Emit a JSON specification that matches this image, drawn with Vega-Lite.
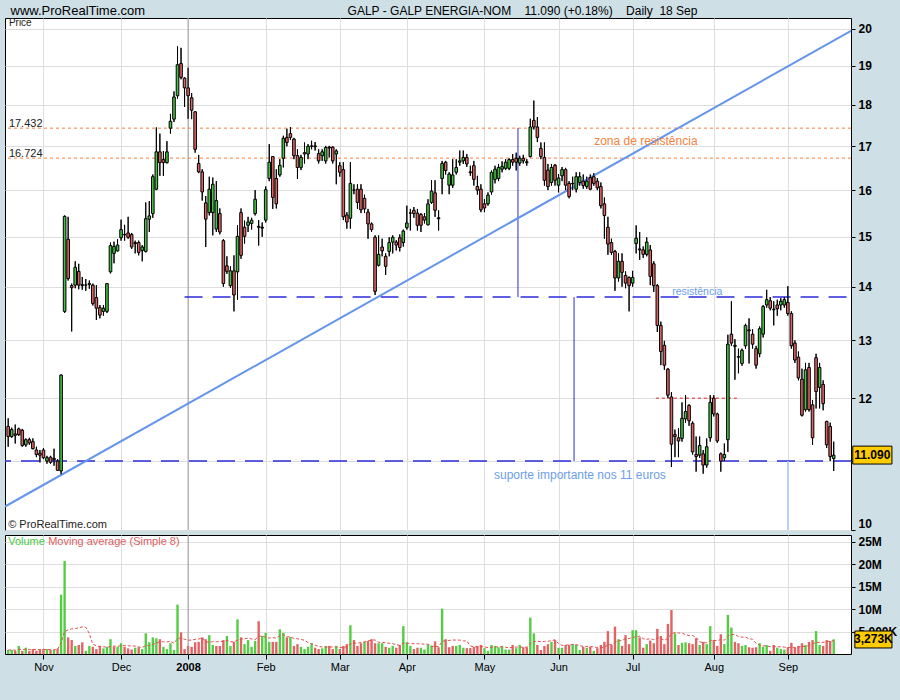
{
"$schema": "https://vega.github.io/schema/vega-lite/v6.json",
"background": "#cfdfe6",
"padding": {"left": 3, "top": 3, "right": 9, "bottom": 28},
"config": {
  "view": {"stroke": "#000000", "strokeWidth": 1, "fill": "#ffffff"},
  "font": "Liberation Sans",
  "axis": {"gridColor": "#dedede", "gridWidth": 1, "tickColor": "#000000", "labelColor": "#000000", "domain": false, "titleFontWeight": "normal", "titleColor": "#000000", "labelOverlap": false},
  "concat": {"spacing": 5}
},
"datasets": {
"galp": [
{"d":"2007-10-18","i":0,"o":11.54,"h":11.67,"l":11.22,"c":11.38,"v":900000},
{"d":"2007-10-19","i":1,"o":11.38,"h":11.52,"l":11.36,"c":11.49,"v":900000},
{"d":"2007-10-22","i":2,"o":11.42,"h":11.57,"l":11.27,"c":11.40,"v":700000},
{"d":"2007-10-23","i":3,"o":11.50,"h":11.52,"l":11.39,"c":11.41,"v":1800000},
{"d":"2007-10-24","i":4,"o":11.48,"h":11.50,"l":11.22,"c":11.24,"v":700000},
{"d":"2007-10-25","i":5,"o":11.25,"h":11.35,"l":11.22,"c":11.33,"v":1400000},
{"d":"2007-10-26","i":6,"o":11.33,"h":11.36,"l":11.25,"c":11.28,"v":700000},
{"d":"2007-10-29","i":7,"o":11.30,"h":11.35,"l":11.18,"c":11.19,"v":1100000},
{"d":"2007-10-30","i":8,"o":11.17,"h":11.22,"l":11.06,"c":11.10,"v":700000},
{"d":"2007-10-31","i":9,"o":11.12,"h":11.17,"l":10.98,"c":11.09,"v":900000},
{"d":"2007-11-01","i":10,"o":11.17,"h":11.20,"l":11.03,"c":11.05,"v":1100000},
{"d":"2007-11-02","i":11,"o":11.00,"h":11.08,"l":10.96,"c":11.05,"v":1100000},
{"d":"2007-11-05","i":12,"o":11.06,"h":11.08,"l":10.96,"c":10.98,"v":900000},
{"d":"2007-11-06","i":13,"o":11.04,"h":11.19,"l":10.93,"c":11.02,"v":900000},
{"d":"2007-11-07","i":14,"o":11.00,"h":11.03,"l":10.85,"c":10.86,"v":1200000},
{"d":"2007-11-08","i":15,"o":10.85,"h":12.40,"l":10.80,"c":12.39,"v":13200000},
{"d":"2007-11-09","i":16,"o":13.53,"h":15.45,"l":13.50,"c":15.43,"v":20700000},
{"d":"2007-11-12","i":17,"o":14.95,"h":15.42,"l":14.12,"c":14.16,"v":3700000},
{"d":"2007-11-13","i":18,"o":14.02,"h":14.06,"l":13.16,"c":13.98,"v":3100000},
{"d":"2007-11-14","i":19,"o":14.03,"h":14.50,"l":13.97,"c":14.38,"v":1800000},
{"d":"2007-11-15","i":20,"o":14.30,"h":14.45,"l":13.95,"c":14.03,"v":2000000},
{"d":"2007-11-16","i":21,"o":14.04,"h":14.19,"l":13.94,"c":14.02,"v":2600000},
{"d":"2007-11-19","i":22,"o":14.03,"h":14.15,"l":13.92,"c":14.03,"v":700000},
{"d":"2007-11-20","i":23,"o":14.06,"h":14.12,"l":13.96,"c":14.04,"v":1800000},
{"d":"2007-11-21","i":24,"o":14.03,"h":14.06,"l":13.64,"c":13.68,"v":1600000},
{"d":"2007-11-22","i":25,"o":13.79,"h":14.03,"l":13.37,"c":13.59,"v":1100000},
{"d":"2007-11-23","i":26,"o":13.60,"h":13.65,"l":13.40,"c":13.46,"v":1800000},
{"d":"2007-11-26","i":27,"o":13.53,"h":13.65,"l":13.45,"c":13.59,"v":1250000},
{"d":"2007-11-27","i":28,"o":13.53,"h":14.07,"l":13.50,"c":14.06,"v":1600000},
{"d":"2007-11-28","i":29,"o":14.29,"h":14.88,"l":14.26,"c":14.82,"v":3300000},
{"d":"2007-11-29","i":30,"o":14.66,"h":14.90,"l":14.46,"c":14.80,"v":1600000},
{"d":"2007-11-30","i":31,"o":14.71,"h":14.95,"l":14.70,"c":14.83,"v":1600000},
{"d":"2007-12-03","i":32,"o":14.98,"h":15.36,"l":14.92,"c":15.15,"v":2400000},
{"d":"2007-12-04","i":33,"o":15.05,"h":15.25,"l":14.92,"c":15.04,"v":1600000},
{"d":"2007-12-05","i":34,"o":15.08,"h":15.42,"l":14.96,"c":14.99,"v":1250000},
{"d":"2007-12-06","i":35,"o":15.05,"h":15.08,"l":14.75,"c":14.79,"v":1000000},
{"d":"2007-12-07","i":36,"o":14.88,"h":14.92,"l":14.66,"c":14.86,"v":1400000},
{"d":"2007-12-10","i":37,"o":14.88,"h":14.92,"l":14.62,"c":14.68,"v":1500000},
{"d":"2007-12-11","i":38,"o":14.72,"h":14.83,"l":14.50,"c":14.79,"v":1100000},
{"d":"2007-12-12","i":39,"o":14.70,"h":15.73,"l":14.68,"c":15.38,"v":4600000},
{"d":"2007-12-13","i":40,"o":15.37,"h":15.76,"l":15.10,"c":15.44,"v":2600000},
{"d":"2007-12-14","i":41,"o":15.49,"h":16.35,"l":15.40,"c":16.30,"v":3700000},
{"d":"2007-12-17","i":42,"o":16.02,"h":17.45,"l":16.00,"c":16.87,"v":3500000},
{"d":"2007-12-18","i":43,"o":16.87,"h":17.30,"l":16.32,"c":16.62,"v":3300000},
{"d":"2007-12-19","i":44,"o":16.69,"h":16.89,"l":16.32,"c":16.62,"v":1600000},
{"d":"2007-12-20","i":45,"o":16.62,"h":17.12,"l":16.60,"c":16.87,"v":1100000},
{"d":"2007-12-21","i":46,"o":17.43,"h":17.78,"l":17.30,"c":17.60,"v":2400000},
{"d":"2007-12-24","i":47,"o":17.65,"h":18.34,"l":17.58,"c":18.20,"v":900000},
{"d":"2007-12-27","i":48,"o":18.23,"h":19.52,"l":18.16,"c":19.03,"v":11000000},
{"d":"2007-12-28","i":49,"o":19.06,"h":19.48,"l":18.65,"c":18.70,"v":4800000},
{"d":"2007-12-31","i":50,"o":18.68,"h":18.70,"l":17.95,"c":18.43,"v":1100000},
{"d":"2008-01-02","i":51,"o":18.43,"h":18.95,"l":17.66,"c":18.23,"v":1800000},
{"d":"2008-01-03","i":52,"o":18.18,"h":18.30,"l":17.65,"c":17.87,"v":1600000},
{"d":"2008-01-04","i":53,"o":17.83,"h":17.85,"l":16.85,"c":16.93,"v":2600000},
{"d":"2008-01-07","i":54,"o":16.60,"h":16.80,"l":16.38,"c":16.41,"v":2700000},
{"d":"2008-01-08","i":55,"o":16.41,"h":16.47,"l":15.77,"c":15.96,"v":3700000},
{"d":"2008-01-09","i":56,"o":15.72,"h":15.87,"l":14.79,"c":15.37,"v":3300000},
{"d":"2008-01-10","i":57,"o":15.51,"h":16.30,"l":15.45,"c":16.02,"v":4200000},
{"d":"2008-01-11","i":58,"o":15.51,"h":16.28,"l":15.03,"c":16.13,"v":2000000},
{"d":"2008-01-14","i":59,"o":15.16,"h":16.20,"l":15.10,"c":15.77,"v":1800000},
{"d":"2008-01-15","i":60,"o":15.49,"h":15.60,"l":15.05,"c":15.10,"v":1800000},
{"d":"2008-01-16","i":61,"o":14.92,"h":14.95,"l":14.00,"c":14.06,"v":3100000},
{"d":"2008-01-17","i":62,"o":14.41,"h":14.60,"l":14.25,"c":14.30,"v":4000000},
{"d":"2008-01-18","i":63,"o":14.02,"h":14.40,"l":13.98,"c":14.31,"v":1800000},
{"d":"2008-01-21","i":64,"o":14.31,"h":14.62,"l":13.53,"c":13.84,"v":2700000},
{"d":"2008-01-22","i":65,"o":14.29,"h":15.24,"l":13.75,"c":15.01,"v":7700000},
{"d":"2008-01-23","i":66,"o":15.51,"h":15.60,"l":14.55,"c":14.62,"v":3700000},
{"d":"2008-01-24","i":67,"o":15.20,"h":15.34,"l":14.86,"c":15.01,"v":2200000},
{"d":"2008-01-25","i":68,"o":15.24,"h":15.42,"l":15.10,"c":15.31,"v":3100000},
{"d":"2008-01-28","i":69,"o":15.28,"h":15.40,"l":15.15,"c":15.35,"v":1600000},
{"d":"2008-01-29","i":70,"o":15.49,"h":16.00,"l":15.45,"c":15.80,"v":2900000},
{"d":"2008-01-30","i":71,"o":15.22,"h":15.35,"l":14.82,"c":15.20,"v":7300000},
{"d":"2008-01-31","i":72,"o":15.18,"h":15.30,"l":15.00,"c":15.20,"v":4000000},
{"d":"2008-02-01","i":73,"o":15.35,"h":16.08,"l":15.30,"c":16.01,"v":4700000},
{"d":"2008-02-04","i":74,"o":16.26,"h":17.05,"l":16.20,"c":16.63,"v":2700000},
{"d":"2008-02-05","i":75,"o":16.76,"h":16.77,"l":15.59,"c":15.84,"v":2700000},
{"d":"2008-02-06","i":76,"o":16.26,"h":16.47,"l":15.60,"c":15.70,"v":2700000},
{"d":"2008-02-07","i":77,"o":16.34,"h":16.70,"l":16.30,"c":16.56,"v":5500000},
{"d":"2008-02-08","i":78,"o":16.72,"h":17.25,"l":16.51,"c":17.19,"v":4700000},
{"d":"2008-02-11","i":79,"o":17.21,"h":17.42,"l":17.00,"c":17.09,"v":3700000},
{"d":"2008-02-12","i":80,"o":17.30,"h":17.46,"l":17.15,"c":17.21,"v":3800000},
{"d":"2008-02-13","i":81,"o":17.17,"h":17.20,"l":16.70,"c":16.78,"v":1800000},
{"d":"2008-02-14","i":82,"o":16.78,"h":16.93,"l":16.25,"c":16.51,"v":2200000},
{"d":"2008-02-15","i":83,"o":16.51,"h":16.80,"l":16.45,"c":16.74,"v":1600000},
{"d":"2008-02-18","i":84,"o":16.85,"h":17.09,"l":16.60,"c":16.82,"v":1100000},
{"d":"2008-02-19","i":85,"o":16.82,"h":17.05,"l":16.70,"c":17.00,"v":1600000},
{"d":"2008-02-20","i":86,"o":17.00,"h":17.13,"l":16.93,"c":17.01,"v":2400000},
{"d":"2008-02-21","i":87,"o":17.01,"h":17.10,"l":16.90,"c":16.99,"v":1400000},
{"d":"2008-02-22","i":88,"o":16.83,"h":16.93,"l":16.60,"c":16.66,"v":1100000},
{"d":"2008-02-25","i":89,"o":16.78,"h":16.93,"l":16.66,"c":16.87,"v":1250000},
{"d":"2008-02-26","i":90,"o":16.66,"h":17.01,"l":16.60,"c":16.97,"v":1800000},
{"d":"2008-02-27","i":91,"o":16.98,"h":17.01,"l":16.74,"c":16.96,"v":1800000},
{"d":"2008-02-28","i":92,"o":16.98,"h":17.00,"l":16.60,"c":16.66,"v":1100000},
{"d":"2008-02-29","i":93,"o":16.82,"h":16.93,"l":16.13,"c":16.89,"v":1800000},
{"d":"2008-03-03","i":94,"o":16.55,"h":16.63,"l":16.30,"c":16.40,"v":1100000},
{"d":"2008-03-04","i":95,"o":16.46,"h":16.63,"l":15.35,"c":15.42,"v":1800000},
{"d":"2008-03-05","i":96,"o":15.46,"h":15.52,"l":15.17,"c":15.31,"v":2200000},
{"d":"2008-03-06","i":97,"o":15.39,"h":16.63,"l":15.17,"c":16.15,"v":6400000},
{"d":"2008-03-07","i":98,"o":16.00,"h":16.13,"l":15.91,"c":16.00,"v":3100000},
{"d":"2008-03-10","i":99,"o":16.02,"h":16.13,"l":15.59,"c":15.73,"v":1800000},
{"d":"2008-03-11","i":100,"o":16.02,"h":16.13,"l":15.50,"c":15.57,"v":2400000},
{"d":"2008-03-12","i":101,"o":15.82,"h":15.90,"l":15.50,"c":15.59,"v":2700000},
{"d":"2008-03-13","i":102,"o":15.52,"h":15.59,"l":14.96,"c":15.27,"v":2900000},
{"d":"2008-03-14","i":103,"o":15.27,"h":15.30,"l":15.10,"c":15.15,"v":3300000},
{"d":"2008-03-17","i":104,"o":14.99,"h":15.03,"l":13.84,"c":13.91,"v":2400000},
{"d":"2008-03-18","i":105,"o":14.42,"h":15.03,"l":14.40,"c":14.64,"v":2400000},
{"d":"2008-03-19","i":106,"o":14.79,"h":14.96,"l":14.60,"c":14.71,"v":2400000},
{"d":"2008-03-20","i":107,"o":14.60,"h":14.66,"l":14.23,"c":14.40,"v":1600000},
{"d":"2008-03-25","i":108,"o":14.70,"h":14.99,"l":14.60,"c":14.88,"v":1400000},
{"d":"2008-03-26","i":109,"o":14.89,"h":15.03,"l":14.66,"c":14.99,"v":1800000},
{"d":"2008-03-27","i":110,"o":14.89,"h":14.93,"l":14.72,"c":14.83,"v":1400000},
{"d":"2008-03-28","i":111,"o":14.98,"h":15.05,"l":14.70,"c":14.78,"v":2000000},
{"d":"2008-03-31","i":112,"o":14.88,"h":15.15,"l":14.80,"c":15.12,"v":6200000},
{"d":"2008-04-01","i":113,"o":15.19,"h":15.66,"l":15.15,"c":15.29,"v":2600000},
{"d":"2008-04-02","i":114,"o":15.50,"h":15.59,"l":15.13,"c":15.50,"v":1800000},
{"d":"2008-04-03","i":115,"o":15.56,"h":15.63,"l":15.40,"c":15.49,"v":1100000},
{"d":"2008-04-04","i":116,"o":15.50,"h":15.59,"l":15.13,"c":15.24,"v":1400000},
{"d":"2008-04-07","i":117,"o":15.47,"h":15.50,"l":15.10,"c":15.24,"v":1400000},
{"d":"2008-04-08","i":118,"o":15.42,"h":15.50,"l":15.28,"c":15.35,"v":1000000},
{"d":"2008-04-09","i":119,"o":15.25,"h":15.80,"l":15.24,"c":15.70,"v":2100000},
{"d":"2008-04-10","i":120,"o":15.73,"h":16.22,"l":15.70,"c":15.98,"v":1900000},
{"d":"2008-04-11","i":121,"o":15.94,"h":16.22,"l":15.42,"c":15.56,"v":2800000},
{"d":"2008-04-14","i":122,"o":15.40,"h":15.56,"l":15.13,"c":15.38,"v":1500000},
{"d":"2008-04-15","i":123,"o":16.26,"h":16.66,"l":15.91,"c":16.60,"v":10100000},
{"d":"2008-04-16","i":124,"o":16.63,"h":16.66,"l":16.35,"c":16.44,"v":3300000},
{"d":"2008-04-17","i":125,"o":16.11,"h":16.40,"l":15.91,"c":16.36,"v":1500000},
{"d":"2008-04-18","i":126,"o":16.11,"h":16.70,"l":16.05,"c":16.34,"v":1800000},
{"d":"2008-04-21","i":127,"o":16.40,"h":16.70,"l":16.35,"c":16.51,"v":1800000},
{"d":"2008-04-22","i":128,"o":16.63,"h":16.90,"l":16.55,"c":16.66,"v":2000000},
{"d":"2008-04-23","i":129,"o":16.66,"h":16.90,"l":16.59,"c":16.74,"v":1400000},
{"d":"2008-04-24","i":130,"o":16.74,"h":16.82,"l":16.52,"c":16.59,"v":1300000},
{"d":"2008-04-25","i":131,"o":16.41,"h":16.55,"l":16.32,"c":16.39,"v":1300000},
{"d":"2008-04-28","i":132,"o":16.55,"h":16.66,"l":16.10,"c":16.24,"v":1600000},
{"d":"2008-04-29","i":133,"o":16.08,"h":16.32,"l":15.90,"c":16.00,"v":1800000},
{"d":"2008-04-30","i":134,"o":16.02,"h":16.13,"l":15.52,"c":15.57,"v":2000000},
{"d":"2008-05-02","i":135,"o":15.70,"h":15.80,"l":15.52,"c":15.61,"v":1300000},
{"d":"2008-05-05","i":136,"o":15.70,"h":15.95,"l":15.66,"c":15.89,"v":700000},
{"d":"2008-05-06","i":137,"o":15.96,"h":16.44,"l":15.90,"c":16.40,"v":2000000},
{"d":"2008-05-07","i":138,"o":16.24,"h":16.55,"l":16.15,"c":16.47,"v":1800000},
{"d":"2008-05-08","i":139,"o":16.26,"h":16.59,"l":16.20,"c":16.51,"v":1500000},
{"d":"2008-05-09","i":140,"o":16.47,"h":16.65,"l":16.40,"c":16.53,"v":1800000},
{"d":"2008-05-12","i":141,"o":16.49,"h":16.70,"l":16.45,"c":16.63,"v":1000000},
{"d":"2008-05-13","i":142,"o":16.49,"h":16.72,"l":16.45,"c":16.69,"v":1000000},
{"d":"2008-05-14","i":143,"o":16.69,"h":16.82,"l":16.55,"c":16.63,"v":2000000},
{"d":"2008-05-15","i":144,"o":16.72,"h":16.85,"l":16.44,"c":16.63,"v":1300000},
{"d":"2008-05-16","i":145,"o":16.61,"h":16.78,"l":16.55,"c":16.72,"v":2000000},
{"d":"2008-05-19","i":146,"o":16.72,"h":16.80,"l":16.60,"c":16.66,"v":1500000},
{"d":"2008-05-20","i":147,"o":16.64,"h":16.70,"l":16.55,"c":16.62,"v":1500000},
{"d":"2008-05-21","i":148,"o":16.76,"h":17.66,"l":16.74,"c":17.46,"v":8100000},
{"d":"2008-05-22","i":149,"o":17.62,"h":18.11,"l":17.40,"c":17.46,"v":4600000},
{"d":"2008-05-23","i":150,"o":17.46,"h":17.70,"l":17.10,"c":17.21,"v":2000000},
{"d":"2008-05-26","i":151,"o":16.95,"h":17.09,"l":16.70,"c":16.76,"v":900000},
{"d":"2008-05-27","i":152,"o":16.74,"h":17.09,"l":16.10,"c":16.22,"v":1800000},
{"d":"2008-05-28","i":153,"o":16.45,"h":16.59,"l":16.00,"c":16.08,"v":2200000},
{"d":"2008-05-29","i":154,"o":16.17,"h":16.59,"l":16.10,"c":16.51,"v":2700000},
{"d":"2008-05-30","i":155,"o":16.56,"h":16.59,"l":16.10,"c":16.22,"v":3100000},
{"d":"2008-06-02","i":156,"o":16.11,"h":16.36,"l":15.95,"c":16.27,"v":1400000},
{"d":"2008-06-03","i":157,"o":16.32,"h":16.52,"l":16.20,"c":16.46,"v":1400000},
{"d":"2008-06-04","i":158,"o":16.46,"h":16.50,"l":16.00,"c":16.11,"v":2000000},
{"d":"2008-06-05","i":159,"o":16.15,"h":16.20,"l":15.82,"c":15.86,"v":2000000},
{"d":"2008-06-06","i":160,"o":16.15,"h":16.30,"l":16.00,"c":16.14,"v":2200000},
{"d":"2008-06-09","i":161,"o":16.02,"h":16.40,"l":15.95,"c":16.30,"v":2000000},
{"d":"2008-06-10","i":162,"o":16.17,"h":16.40,"l":16.10,"c":16.30,"v":900000},
{"d":"2008-06-11","i":163,"o":16.20,"h":16.35,"l":16.03,"c":16.10,"v":1600000},
{"d":"2008-06-12","i":164,"o":16.08,"h":16.30,"l":16.03,"c":16.20,"v":1400000},
{"d":"2008-06-13","i":165,"o":16.28,"h":16.35,"l":16.00,"c":16.02,"v":1600000},
{"d":"2008-06-16","i":166,"o":16.30,"h":16.38,"l":16.10,"c":16.15,"v":700000},
{"d":"2008-06-17","i":167,"o":16.20,"h":16.27,"l":16.00,"c":16.05,"v":1300000},
{"d":"2008-06-18","i":168,"o":16.08,"h":16.17,"l":15.60,"c":15.66,"v":2000000},
{"d":"2008-06-19","i":169,"o":15.70,"h":15.84,"l":14.96,"c":15.45,"v":2700000},
{"d":"2008-06-20","i":170,"o":15.20,"h":15.42,"l":14.63,"c":14.85,"v":5100000},
{"d":"2008-06-23","i":171,"o":14.88,"h":14.96,"l":14.63,"c":14.68,"v":2000000},
{"d":"2008-06-24","i":172,"o":14.70,"h":14.73,"l":13.92,"c":14.17,"v":6100000},
{"d":"2008-06-25","i":173,"o":14.17,"h":14.66,"l":14.10,"c":14.50,"v":3300000},
{"d":"2008-06-26","i":174,"o":14.50,"h":14.66,"l":14.00,"c":14.28,"v":1800000},
{"d":"2008-06-27","i":175,"o":14.22,"h":14.30,"l":13.97,"c":14.07,"v":4200000},
{"d":"2008-06-30","i":176,"o":14.18,"h":14.20,"l":13.53,"c":14.02,"v":2200000},
{"d":"2008-07-01","i":177,"o":14.07,"h":14.31,"l":14.00,"c":14.18,"v":5300000},
{"d":"2008-07-02","i":178,"o":14.86,"h":15.24,"l":14.66,"c":14.97,"v":5300000},
{"d":"2008-07-03","i":179,"o":14.75,"h":15.10,"l":14.53,"c":14.73,"v":3700000},
{"d":"2008-07-04","i":180,"o":14.73,"h":14.80,"l":14.57,"c":14.64,"v":1400000},
{"d":"2008-07-07","i":181,"o":14.64,"h":14.99,"l":14.60,"c":14.89,"v":2200000},
{"d":"2008-07-08","i":182,"o":14.73,"h":14.83,"l":14.03,"c":14.20,"v":3000000},
{"d":"2008-07-09","i":183,"o":14.45,"h":14.50,"l":13.90,"c":14.02,"v":2400000},
{"d":"2008-07-10","i":184,"o":14.02,"h":14.05,"l":13.15,"c":13.27,"v":5600000},
{"d":"2008-07-11","i":185,"o":13.27,"h":13.34,"l":12.56,"c":12.80,"v":4000000},
{"d":"2008-07-14","i":186,"o":12.91,"h":12.99,"l":12.48,"c":12.56,"v":2200000},
{"d":"2008-07-15","i":187,"o":12.49,"h":12.51,"l":12.00,"c":12.05,"v":6700000},
{"d":"2008-07-16","i":188,"o":12.02,"h":12.10,"l":10.91,"c":11.26,"v":9800000},
{"d":"2008-07-17","i":189,"o":11.41,"h":11.49,"l":11.06,"c":11.38,"v":4600000},
{"d":"2008-07-18","i":190,"o":11.36,"h":11.51,"l":11.06,"c":11.31,"v":2000000},
{"d":"2008-07-21","i":191,"o":11.35,"h":11.93,"l":11.30,"c":11.67,"v":2500000},
{"d":"2008-07-22","i":192,"o":11.66,"h":12.05,"l":11.60,"c":11.78,"v":2600000},
{"d":"2008-07-23","i":193,"o":11.88,"h":11.90,"l":11.55,"c":11.63,"v":2400000},
{"d":"2008-07-24","i":194,"o":11.59,"h":11.62,"l":11.10,"c":11.14,"v":2200000},
{"d":"2008-07-25","i":195,"o":11.10,"h":11.38,"l":10.84,"c":11.07,"v":3500000},
{"d":"2008-07-28","i":196,"o":11.09,"h":11.38,"l":11.05,"c":11.24,"v":2000000},
{"d":"2008-07-29","i":197,"o":11.11,"h":11.17,"l":10.81,"c":10.94,"v":2700000},
{"d":"2008-07-30","i":198,"o":10.94,"h":11.35,"l":10.90,"c":11.22,"v":2200000},
{"d":"2008-07-31","i":199,"o":11.36,"h":12.05,"l":11.30,"c":11.93,"v":6200000},
{"d":"2008-08-01","i":200,"o":12.00,"h":12.05,"l":11.70,"c":11.74,"v":3100000},
{"d":"2008-08-04","i":201,"o":11.74,"h":11.76,"l":11.28,"c":11.31,"v":1800000},
{"d":"2008-08-05","i":202,"o":11.11,"h":11.13,"l":10.84,"c":11.00,"v":4400000},
{"d":"2008-08-06","i":203,"o":11.05,"h":11.27,"l":11.00,"c":11.10,"v":2200000},
{"d":"2008-08-07","i":204,"o":11.33,"h":13.10,"l":11.14,"c":12.93,"v":8700000},
{"d":"2008-08-08","i":205,"o":13.11,"h":13.72,"l":12.90,"c":12.95,"v":5900000},
{"d":"2008-08-11","i":206,"o":12.91,"h":13.02,"l":12.31,"c":12.89,"v":2700000},
{"d":"2008-08-12","i":207,"o":12.71,"h":12.85,"l":12.42,"c":12.70,"v":2400000},
{"d":"2008-08-13","i":208,"o":12.59,"h":12.85,"l":12.55,"c":12.82,"v":1800000},
{"d":"2008-08-14","i":209,"o":12.90,"h":13.30,"l":12.85,"c":13.27,"v":2000000},
{"d":"2008-08-15","i":210,"o":13.19,"h":13.40,"l":12.59,"c":13.17,"v":1500000},
{"d":"2008-08-18","i":211,"o":13.11,"h":13.20,"l":12.85,"c":12.93,"v":1400000},
{"d":"2008-08-19","i":212,"o":12.85,"h":12.90,"l":12.50,"c":12.56,"v":1500000},
{"d":"2008-08-20","i":213,"o":12.76,"h":13.25,"l":12.70,"c":13.21,"v":2400000},
{"d":"2008-08-21","i":214,"o":13.11,"h":13.65,"l":13.05,"c":13.62,"v":1600000},
{"d":"2008-08-22","i":215,"o":13.65,"h":13.94,"l":13.60,"c":13.75,"v":2000000},
{"d":"2008-08-25","i":216,"o":13.73,"h":13.80,"l":13.55,"c":13.59,"v":700000},
{"d":"2008-08-26","i":217,"o":13.57,"h":13.72,"l":13.27,"c":13.56,"v":2000000},
{"d":"2008-08-27","i":218,"o":13.65,"h":13.75,"l":13.45,"c":13.58,"v":1400000},
{"d":"2008-08-28","i":219,"o":13.65,"h":13.78,"l":13.55,"c":13.72,"v":1100000},
{"d":"2008-08-29","i":220,"o":13.65,"h":13.80,"l":13.60,"c":13.75,"v":1000000},
{"d":"2008-09-01","i":221,"o":13.70,"h":14.01,"l":13.45,"c":13.49,"v":1500000},
{"d":"2008-09-02","i":222,"o":13.49,"h":13.53,"l":12.85,"c":12.90,"v":2500000},
{"d":"2008-09-03","i":223,"o":12.95,"h":13.00,"l":12.60,"c":12.65,"v":1400000},
{"d":"2008-09-04","i":224,"o":12.70,"h":12.80,"l":12.30,"c":12.34,"v":1800000},
{"d":"2008-09-05","i":225,"o":12.32,"h":12.50,"l":11.70,"c":11.72,"v":2400000},
{"d":"2008-09-08","i":226,"o":11.81,"h":12.60,"l":11.78,"c":12.48,"v":2000000},
{"d":"2008-09-09","i":227,"o":12.52,"h":12.60,"l":11.78,"c":11.81,"v":2700000},
{"d":"2008-09-10","i":228,"o":11.89,"h":11.97,"l":11.25,"c":11.36,"v":3100000},
{"d":"2008-09-11","i":229,"o":12.69,"h":12.76,"l":11.83,"c":12.11,"v":5100000},
{"d":"2008-09-12","i":230,"o":12.18,"h":12.60,"l":11.83,"c":12.52,"v":2000000},
{"d":"2008-09-15","i":231,"o":12.23,"h":12.30,"l":11.80,"c":11.91,"v":1800000},
{"d":"2008-09-16","i":232,"o":11.62,"h":11.63,"l":11.20,"c":11.25,"v":3100000},
{"d":"2008-09-17","i":233,"o":11.54,"h":11.60,"l":11.00,"c":11.07,"v":2900000},
{"d":"2008-09-18","i":234,"o":11.04,"h":11.30,"l":10.85,"c":11.09,"v":3273000}
]
},
"vconcat": [
{
  "width": 846,
  "height": 512,
  "layer": [
    {
      "data": {"name": "galp"},
      "mark": {"type": "rule", "color": "#000000", "strokeWidth": 1},
      "encoding": {
        "x": {"field": "i", "type": "quantitative",
          "scale": {"domain": [-0.9, 238.9], "nice": false, "zero": false, "padding": 0},
          "axis": {"orient": "top", "values": [10, 32, 51, 73, 94, 113, 135, 156, 177, 200, 221],
            "labels": false, "ticks": false, "domain": false, "grid": true,
            "title": "GALP - GALP ENERGIA-NOM \u00a0\u00a0 11.090 (+0.18%) \u00a0\u00a0 Daily \u00a018 Sep",
            "titleFont": "Liberation Sans", "titleFontSize": 12, "titleFontWeight": "normal",
            "titleX": 517, "titleY": -4, "titleAlign": "center", "titleBaseline": "alphabetic"}},
        "y": {"field": "l", "type": "quantitative",
          "scale": {"type": "log", "domain": [10, 20.3], "nice": false, "padding": 0},
          "axis": {"orient": "right", "values": [10, 11, 12, 13, 14, 15, 16, 17, 18, 19, 20],
            "labelExpr": "datum.value == 11 ? '' : format(datum.value, 'd')",
            "labelFont": "Liberation Sans", "labelFontSize": 12, "labelFontWeight": "bold", "labelFlush": true,
            "labelOverlap": false, "tickSize": 4, "labelPadding": 3, "grid": true,
            "title": "www.ProRealTime.com", "titleFont": "Liberation Sans", "titleFontSize": 13, "titleFontWeight": "normal",
            "titleAngle": 0, "titleX": -841, "titleY": -4, "titleAlign": "left", "titleBaseline": "alphabetic"}},
        "y2": {"field": "h"}
      }
    },
    {
      "data": {"values": [{"at": 51}]},
      "mark": {"type": "rule", "color": "#9a9a9a", "strokeWidth": 1},
      "encoding": {"x": {"field": "at", "type": "quantitative"}}
    },
    {
      "data": {"values": [{"lvl": 17.432}, {"lvl": 16.724}]},
      "mark": {"type": "rule", "color": "#f5823c", "strokeWidth": 1, "strokeDash": [3, 3]},
      "encoding": {"y": {"field": "lvl", "type": "quantitative"}}
    },
    {
      "data": {"values": [{"lvl": 11.0}]},
      "mark": {"type": "rule", "color": "#2b2bdb", "strokeWidth": 1.5, "strokeDash": [18, 10]},
      "encoding": {"y": {"field": "lvl", "type": "quantitative"}}
    },
    {
      "data": {"values": [{"lvl": 13.8, "from": 50, "to": 238.9}]},
      "mark": {"type": "rule", "color": "#2b2bdb", "strokeWidth": 1.5, "strokeDash": [18, 10]},
      "encoding": {
        "x": {"field": "from", "type": "quantitative"},
        "x2": {"field": "to"},
        "y": {"field": "lvl", "type": "quantitative"}
      }
    },
    {
      "data": {"values": [{"lvl": 12.0, "from": 183.6, "to": 207.4}]},
      "mark": {"type": "rule", "color": "#e02020", "strokeWidth": 1, "strokeDash": [3, 3]},
      "encoding": {
        "x": {"field": "from", "type": "quantitative"},
        "x2": {"field": "to"},
        "y": {"field": "lvl", "type": "quantitative"}
      }
    },
    {
      "data": {"values": [{"at": 144.5, "p1": 17.432, "p2": 13.8}, {"at": 160.4, "p1": 13.8, "p2": 11.0}]},
      "mark": {"type": "rule", "color": "#2b2bdb", "strokeWidth": 1},
      "encoding": {
        "x": {"field": "at", "type": "quantitative"},
        "y": {"field": "p1", "type": "quantitative"},
        "y2": {"field": "p2"}
      }
    },
    {
      "data": {"values": [{"at": 221.0, "p1": 11.0, "p2": 10.0}]},
      "mark": {"type": "rule", "color": "#a8c8f8", "strokeWidth": 1.5},
      "encoding": {
        "x": {"field": "at", "type": "quantitative"},
        "y": {"field": "p1", "type": "quantitative"},
        "y2": {"field": "p2"}
      }
    },
    {
      "data": {"values": [{"from": -0.9, "to": 238.9, "p1": 10.33, "p2": 19.94}]},
      "mark": {"type": "rule", "color": "#6495ed", "strokeWidth": 2, "clip": true},
      "encoding": {
        "x": {"field": "from", "type": "quantitative"},
        "x2": {"field": "to"},
        "y": {"field": "p1", "type": "quantitative"},
        "y2": {"field": "p2"}
      }
    },
    {
      "data": {"name": "galp"},
      "mark": {"type": "rule", "color": "#000000", "strokeWidth": 1},
      "encoding": {
        "x": {"field": "i", "type": "quantitative"},
        "y": {"field": "l", "type": "quantitative"},
        "y2": {"field": "h"}
      }
    },
    {
      "data": {"name": "galp"},
      "mark": {"type": "bar", "size": 2.6, "stroke": "#000000", "strokeWidth": 1},
      "encoding": {
        "x": {"field": "i", "type": "quantitative"},
        "y": {"field": "o", "type": "quantitative"},
        "y2": {"field": "c"},
        "color": {"condition": {"test": "datum.c >= datum.o", "value": "#44c244"}, "value": "#dd6262"}
      }
    },
    {
      "data": {"values": [{}]},
      "mark": {"type": "text", "align": "left", "baseline": "middle", "fontSize": 10, "color": "#222222"},
      "encoding": {"x": {"datum": 0.2}, "y": {"datum": 20.16}, "text": {"value": "Price"}}
    },
    {
      "data": {"values": [{}]},
      "mark": {"type": "text", "align": "left", "baseline": "middle", "fontSize": 11, "color": "#222222"},
      "encoding": {"x": {"datum": 0.2}, "y": {"datum": 17.53}, "text": {"value": "17.432"}}
    },
    {
      "data": {"values": [{}]},
      "mark": {"type": "text", "align": "left", "baseline": "middle", "fontSize": 11, "color": "#222222"},
      "encoding": {"x": {"datum": 0.2}, "y": {"datum": 16.82}, "text": {"value": "16.724"}}
    },
    {
      "data": {"values": [{}]},
      "mark": {"type": "text", "align": "left", "baseline": "middle", "fontSize": 12, "color": "#f5823c"},
      "encoding": {"x": {"datum": 166.1}, "y": {"datum": 17.12}, "text": {"value": "zona de resistência"}}
    },
    {
      "data": {"values": [{}]},
      "mark": {"type": "text", "align": "left", "baseline": "middle", "fontSize": 10.5, "color": "#6d9eeb"},
      "encoding": {"x": {"datum": 188.2}, "y": {"datum": 13.9}, "text": {"value": "resistência"}}
    },
    {
      "data": {"values": [{}]},
      "mark": {"type": "text", "align": "left", "baseline": "middle", "fontSize": 12, "color": "#6d9eeb"},
      "encoding": {"x": {"datum": 137.7}, "y": {"datum": 10.79}, "text": {"value": "suporte importante nos 11 euros"}}
    },
    {
      "data": {"values": [{}]},
      "mark": {"type": "text", "align": "left", "baseline": "middle", "fontSize": 11, "color": "#222222"},
      "encoding": {"x": {"datum": 0.0}, "y": {"datum": 10.07}, "text": {"value": "© ProRealTime.com"}}
    },
    {
      "data": {"values": [{}]},
      "mark": {"type": "rect", "fill": "#ffcc00", "stroke": "#000000", "strokeWidth": 1},
      "encoding": {"x": {"datum": 239.4}, "x2": {"datum": 250.5}, "y": {"datum": 10.955}, "y2": {"datum": 11.23}}
    },
    {
      "data": {"values": [{}]},
      "mark": {"type": "text", "align": "center", "baseline": "middle", "fontSize": 12, "fontWeight": "bold", "color": "#000000"},
      "encoding": {"x": {"datum": 244.95}, "y": {"datum": 11.09}, "text": {"value": "11.090"}}
    }
  ]
},
{
  "width": 846,
  "height": 119,
  "resolve": {"axis": {"y": "independent"}},
  "layer": [
    {
      "data": {"name": "galp"},
      "transform": [{"window": [{"op": "lag", "field": "c", "param": 1, "as": "pc"}], "sort": [{"field": "i"}]}],
      "mark": {"type": "bar", "size": 2.4},
      "encoding": {
        "x": {"field": "i", "type": "quantitative",
          "scale": {"domain": [-0.9, 238.9], "nice": false, "zero": false, "padding": 0},
          "axis": {"orient": "bottom", "values": [10, 32, 51, 73, 94, 113, 135, 156, 177, 200, 221],
            "labelExpr": "datum.value == 10 ? 'Nov' : datum.value == 32 ? 'Dec' : datum.value == 51 ? '2008' : datum.value == 73 ? 'Feb' : datum.value == 94 ? 'Mar' : datum.value == 113 ? 'Apr' : datum.value == 135 ? 'May' : datum.value == 156 ? 'Jun' : datum.value == 177 ? 'Jul' : datum.value == 200 ? 'Aug' : 'Sep'",
            "labelFont": "Liberation Sans", "labelFontSize": 11,
            "labelFontWeight": {"condition": {"test": "datum.value == 51", "value": "bold"}, "value": "normal"},
            "labelOverlap": false, "tickSize": 5, "labelPadding": 2, "grid": true, "title": null}},
        "y": {"field": "v", "type": "quantitative",
          "scale": {"domain": [0, 26500000], "nice": false, "padding": 0},
          "axis": {"orient": "right", "values": [5000000, 15000000, 25000000],
            "labelExpr": "datum.value >= 10000000 ? format(datum.value / 1000000, 'd') + 'M' : format(datum.value / 1000, ',') + 'K'",
            "labelFont": "Liberation Sans", "labelFontSize": 12, "labelFontWeight": "bold",
            "labelOverlap": false, "tickSize": 4, "labelPadding": 3, "grid": true, "title": null}},
        "color": {"condition": {"test": "datum.pc == null || datum.c >= datum.pc", "value": "#55cc44"}, "value": "#e06464"}
      }
    },
    {
      "data": {"values": [{"at": 51}]},
      "mark": {"type": "rule", "color": "#9a9a9a", "strokeWidth": 1},
      "encoding": {"x": {"field": "at", "type": "quantitative"}}
    },
    {
      "data": {"name": "galp"},
      "transform": [{"window": [{"op": "mean", "field": "v", "as": "ma"}], "frame": [-7, 0], "sort": [{"field": "i"}]}],
      "mark": {"type": "line", "color": "#e05050", "strokeWidth": 1, "strokeDash": [3, 2]},
      "encoding": {
        "x": {"field": "i", "type": "quantitative"},
        "y": {"field": "ma", "type": "quantitative",
          "axis": {"orient": "right", "values": [10000000, 20000000],
            "labelExpr": "format(datum.value / 1000000, 'd') + 'M'",
            "labelFont": "Liberation Sans", "labelFontSize": 12, "labelFontWeight": "bold",
            "labelOverlap": false, "tickSize": 4, "labelPadding": 3, "grid": true, "title": null}}
      }
    },
    {
      "data": {"values": [{}]},
      "mark": {"type": "text", "align": "left", "baseline": "middle", "fontSize": 11, "color": "#44cc44"},
      "encoding": {"x": {"datum": 0}, "y": {"datum": 24900000, "axis": null}, "text": {"value": "Volume"}}
    },
    {
      "data": {"values": [{}]},
      "mark": {"type": "text", "align": "left", "baseline": "middle", "fontSize": 11, "color": "#e06060", "dx": 40},
      "encoding": {"x": {"datum": 0}, "y": {"datum": 24900000, "axis": null}, "text": {"value": "Moving average (Simple 8)"}}
    },
    {
      "data": {"values": [{}]},
      "mark": {"type": "rect", "fill": "#ffcc00", "stroke": "#000000", "strokeWidth": 1},
      "encoding": {"x": {"datum": 240.0}, "x2": {"datum": 250.5}, "y": {"datum": 1340000, "axis": null}, "y2": {"datum": 5120000}}
    },
    {
      "data": {"values": [{}]},
      "mark": {"type": "text", "align": "center", "baseline": "middle", "fontSize": 12, "fontWeight": "bold", "color": "#000000"},
      "encoding": {"x": {"datum": 245.25}, "y": {"datum": 3230000, "axis": null}, "text": {"value": "3,273K"}}
    }
  ]
}
],
"bounds": "flush"
}
